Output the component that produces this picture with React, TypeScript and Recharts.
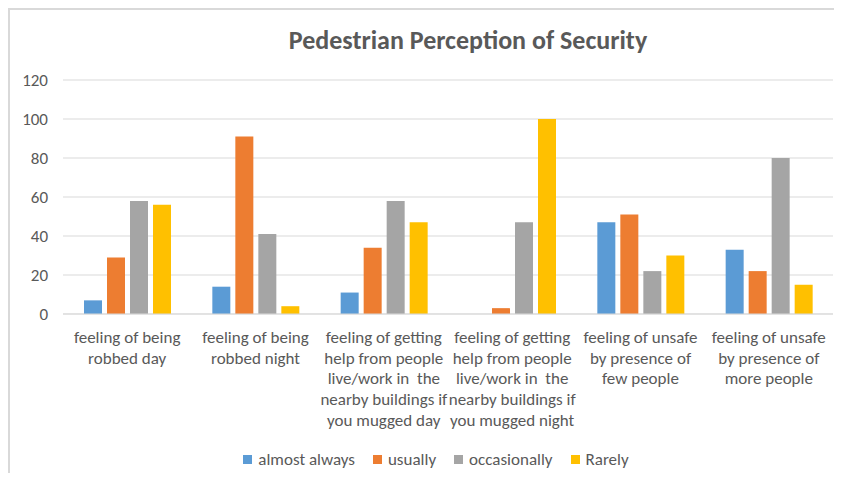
import React from "react";
import { BarChart, Bar, XAxis, YAxis, CartesianGrid, Legend } from "recharts";

const categories = [
  "feeling of being\nrobbed day",
  "feeling of being\nrobbed night",
  "feeling of getting\nhelp from people\nlive/work in  the\nnearby buildings if\nyou mugged day",
  "feeling of getting\nhelp from people\nlive/work in  the\nnearby buildings if\nyou mugged night",
  "feeling of unsafe\nby presence of\nfew people",
  "feeling of unsafe\nby presence of\nmore people",
];
const almostAlways = [7, 14, 11, 0, 47, 33];
const usually = [29, 91, 34, 3, 51, 22];
const occasionally = [58, 41, 58, 47, 22, 80];
const rarely = [56, 4, 47, 100, 30, 15];
const yTicks = [0, 20, 40, 60, 80, 100, 120];
const title = "Pedestrian Perception of Security";

const seriesDefs = [
  { key: "almostAlways", name: "almost always", color: "#5b9bd5" },
  { key: "usually", name: "usually", color: "#ed7d31" },
  { key: "occasionally", name: "occasionally", color: "#a5a5a5" },
  { key: "rarely", name: "Rarely", color: "#ffc000" },
];

const data = categories.map((c, i) => ({
  category: c,
  almostAlways: almostAlways[i],
  usually: usually[i],
  occasionally: occasionally[i],
  rarely: rarely[i],
}));

const FONT = "Carlito, Calibri, Lato, 'Noto Sans', sans-serif";
const TEXT = "#595959";
const FS = 17;

const CatTick = (props: any) => {
  const { x, y, payload } = props;
  const lines = String(payload.value).split("\n");
  return (
    <g>
      <text
        x={x}
        y={y}
        textAnchor="middle"
        fill={TEXT}
        fontSize={FS}
        fontFamily={FONT}
        style={{ whiteSpace: "pre" }}
      >
        {lines.map((l, i) => (
          <tspan key={i} x={x} dy={i === 0 ? 29 : 20.7}>
            {l}
          </tspan>
        ))}
      </text>
    </g>
  );
};

const LegendContent = () => (
  <div
    style={{
      display: "flex",
      justifyContent: "center",
      alignItems: "center",
      gap: 18,
      height: 28,
      paddingLeft: 16,
      fontFamily: FONT,
      fontSize: FS,
      color: TEXT,
    }}
  >
    {seriesDefs.map((s) => (
      <div key={s.key} style={{ display: "flex", alignItems: "center" }}>
        <div style={{ width: 9, height: 9, background: s.color, marginRight: 6 }} />
        <span>{s.name}</span>
      </div>
    ))}
  </div>
);

export default function App() {
  return (
    <div style={{ position: "relative", width: 826, height: 465 }}>
      <div
        style={{
          position: "absolute",
          left: 0,
          top: 0,
          width: 834,
          height: 473,
          borderTop: "2px solid #d9d9d9",
          borderLeft: "2px solid #d9d9d9",
          boxSizing: "border-box",
        }}
      />
      <div
        style={{
          position: "absolute",
          left: 160,
          top: 16,
          width: 600,
          textAlign: "center",
          fontFamily: FONT,
          fontWeight: 700,
          fontSize: 26,
          lineHeight: "32px",
          color: TEXT,
        }}
      >
        {title}
      </div>
      <div style={{ position: "absolute", left: 0, top: 0 }}>
        <BarChart
          width={826}
          height={465}
          data={data}
          margin={{ top: 72, right: 1, bottom: 0, left: 15 }}
          barSize={18}
          barGap={5}
        >
          <CartesianGrid vertical={false} stroke="#d9d9d9" strokeWidth={1} />
          <XAxis
            dataKey="category"
            interval={0}
            tickLine={false}
            axisLine={{ stroke: "#d9d9d9" }}
            tickSize={0}
            tickMargin={0}
            height={131}
            tick={<CatTick />}
          />
          <YAxis
            domain={[0, 120]}
            ticks={yTicks}
            axisLine={false}
            tickLine={false}
            tickSize={0}
            tickMargin={15}
            width={40}
            tick={{ fill: TEXT, fontSize: FS, fontFamily: FONT }}
          />
          <Legend verticalAlign="bottom" content={<LegendContent />} wrapperStyle={{ height: 28 }} />
          {seriesDefs.map((s) => (
            <Bar
              key={s.key}
              dataKey={s.key}
              name={s.name}
              fill={s.color}
              isAnimationActive={false}
            />
          ))}
        </BarChart>
      </div>
    </div>
  );
}
